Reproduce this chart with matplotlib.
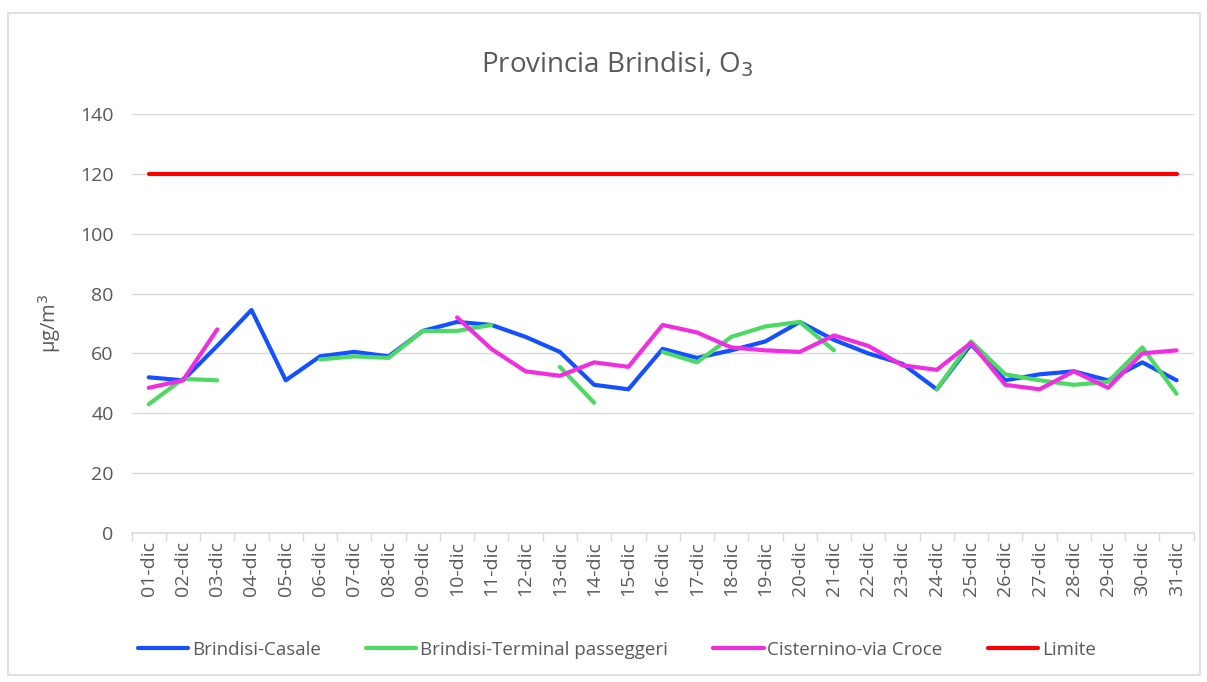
import matplotlib
matplotlib.use("Agg")
import matplotlib.pyplot as plt
import numpy as np
from matplotlib.patches import Rectangle

nan = np.nan

# data (ug/m3)
days = ["%02d-dic" % d for d in range(1, 32)]
casale = [52, 51, 62.5, 74.5, 51, 59, 60.5, 59, 67.5, 70.5, 69.5,
          65.5, 60.5, 49.5, 48, 61.5, 58.5, 61, 64, 70.5, 64.5,
          60, 56.5, 48, 63, 51, 53, 54, 51, 57, 51]
terminal = [43, 51.5, 51, nan, nan, 58, 59, 58.5, 67.5, 67.5, 69.5,
            nan, 55.5, 43.5, nan, 60.5, 57, 65.5, 69, 70.5, 61,
            nan, nan, 48, 64, 53, 51, 49.5, 50.5, 62, 46.5]
cisternino = [48.5, 51, 68, nan, nan, nan, nan, nan, nan, 72, 61.5,
              54, 52.5, 57, 55.5, 69.5, 67, 62, 61, 60.5, 66,
              62.5, 56, 54.5, 63.5, 49.5, 48, 54, 48.5, 60, 61]
limite = [120] * 31

series = [("Brindisi-Casale", casale, "#1450ff"),
          ("Brindisi-Terminal passeggeri", terminal, "#4cd964"),
          ("Cisternino-via Croce", cisternino, "#f02ee0"),
          ("Limite", limite, "#ff0000")]

plt.rcParams['font.family'] = ['Open Sans', 'DejaVu Sans']
txt = "#595959"

fig = plt.figure(figsize=(12.07, 6.82), dpi=100)
ax = fig.add_axes([0.109, 0.2185, 0.880, 0.6145])

x = np.arange(len(days))
for name, vals, col in series:
    ax.plot(x, vals, color=col, linewidth=3, label=name, solid_capstyle='round')

ax.set_ylim(0, 140)
ax.set_yticks(range(0, 141, 20))
ax.set_xlim(-0.5, len(days) - 0.5)
ax.grid(axis='y', color='#d9d9d9', linewidth=1)
ax.set_axisbelow(True)
for s in ['top', 'right', 'left']:
    ax.spines[s].set_visible(False)
ax.spines['bottom'].set_color('#d9d9d9')
ax.spines['bottom'].set_linewidth(1.2)

# tick marks between categories, labels on centers
ax.set_xticks(np.arange(-0.5, len(days), 1))
ax.set_xticklabels([])
ax.tick_params(axis='x', which='major', length=6, color='#d9d9d9', width=1)
ax.set_xticks(x, minor=True)
ax.set_xticklabels(days, minor=True, rotation=90, fontsize=14, color=txt)
ax.tick_params(axis='x', which='minor', length=0, pad=6)
ax.tick_params(axis='y', length=0, labelsize=14, labelcolor=txt, pad=13)

ax.set_ylabel("µg/m$^3$", fontsize=14.5, color=txt, labelpad=12)
fig.text(0.511, 0.905, "Provincia Brindisi, O$_3$", ha='center', va='center',
         fontsize=20, color=txt)

fig.legend(loc='center', bbox_to_anchor=(0.511, 0.047), ncol=4, frameon=False,
           fontsize=13.5, handlelength=2.7, handletextpad=0.2,
           columnspacing=2.4, labelcolor=txt)

# outer chart border
fig.patches.append(Rectangle((8 / 1207, 7 / 682), 1192 / 1207, 662 / 682,
                             transform=fig.transFigure, fill=False,
                             edgecolor='#d9d9d9', linewidth=1.2))

fig.savefig("out.png", dpi=100)
